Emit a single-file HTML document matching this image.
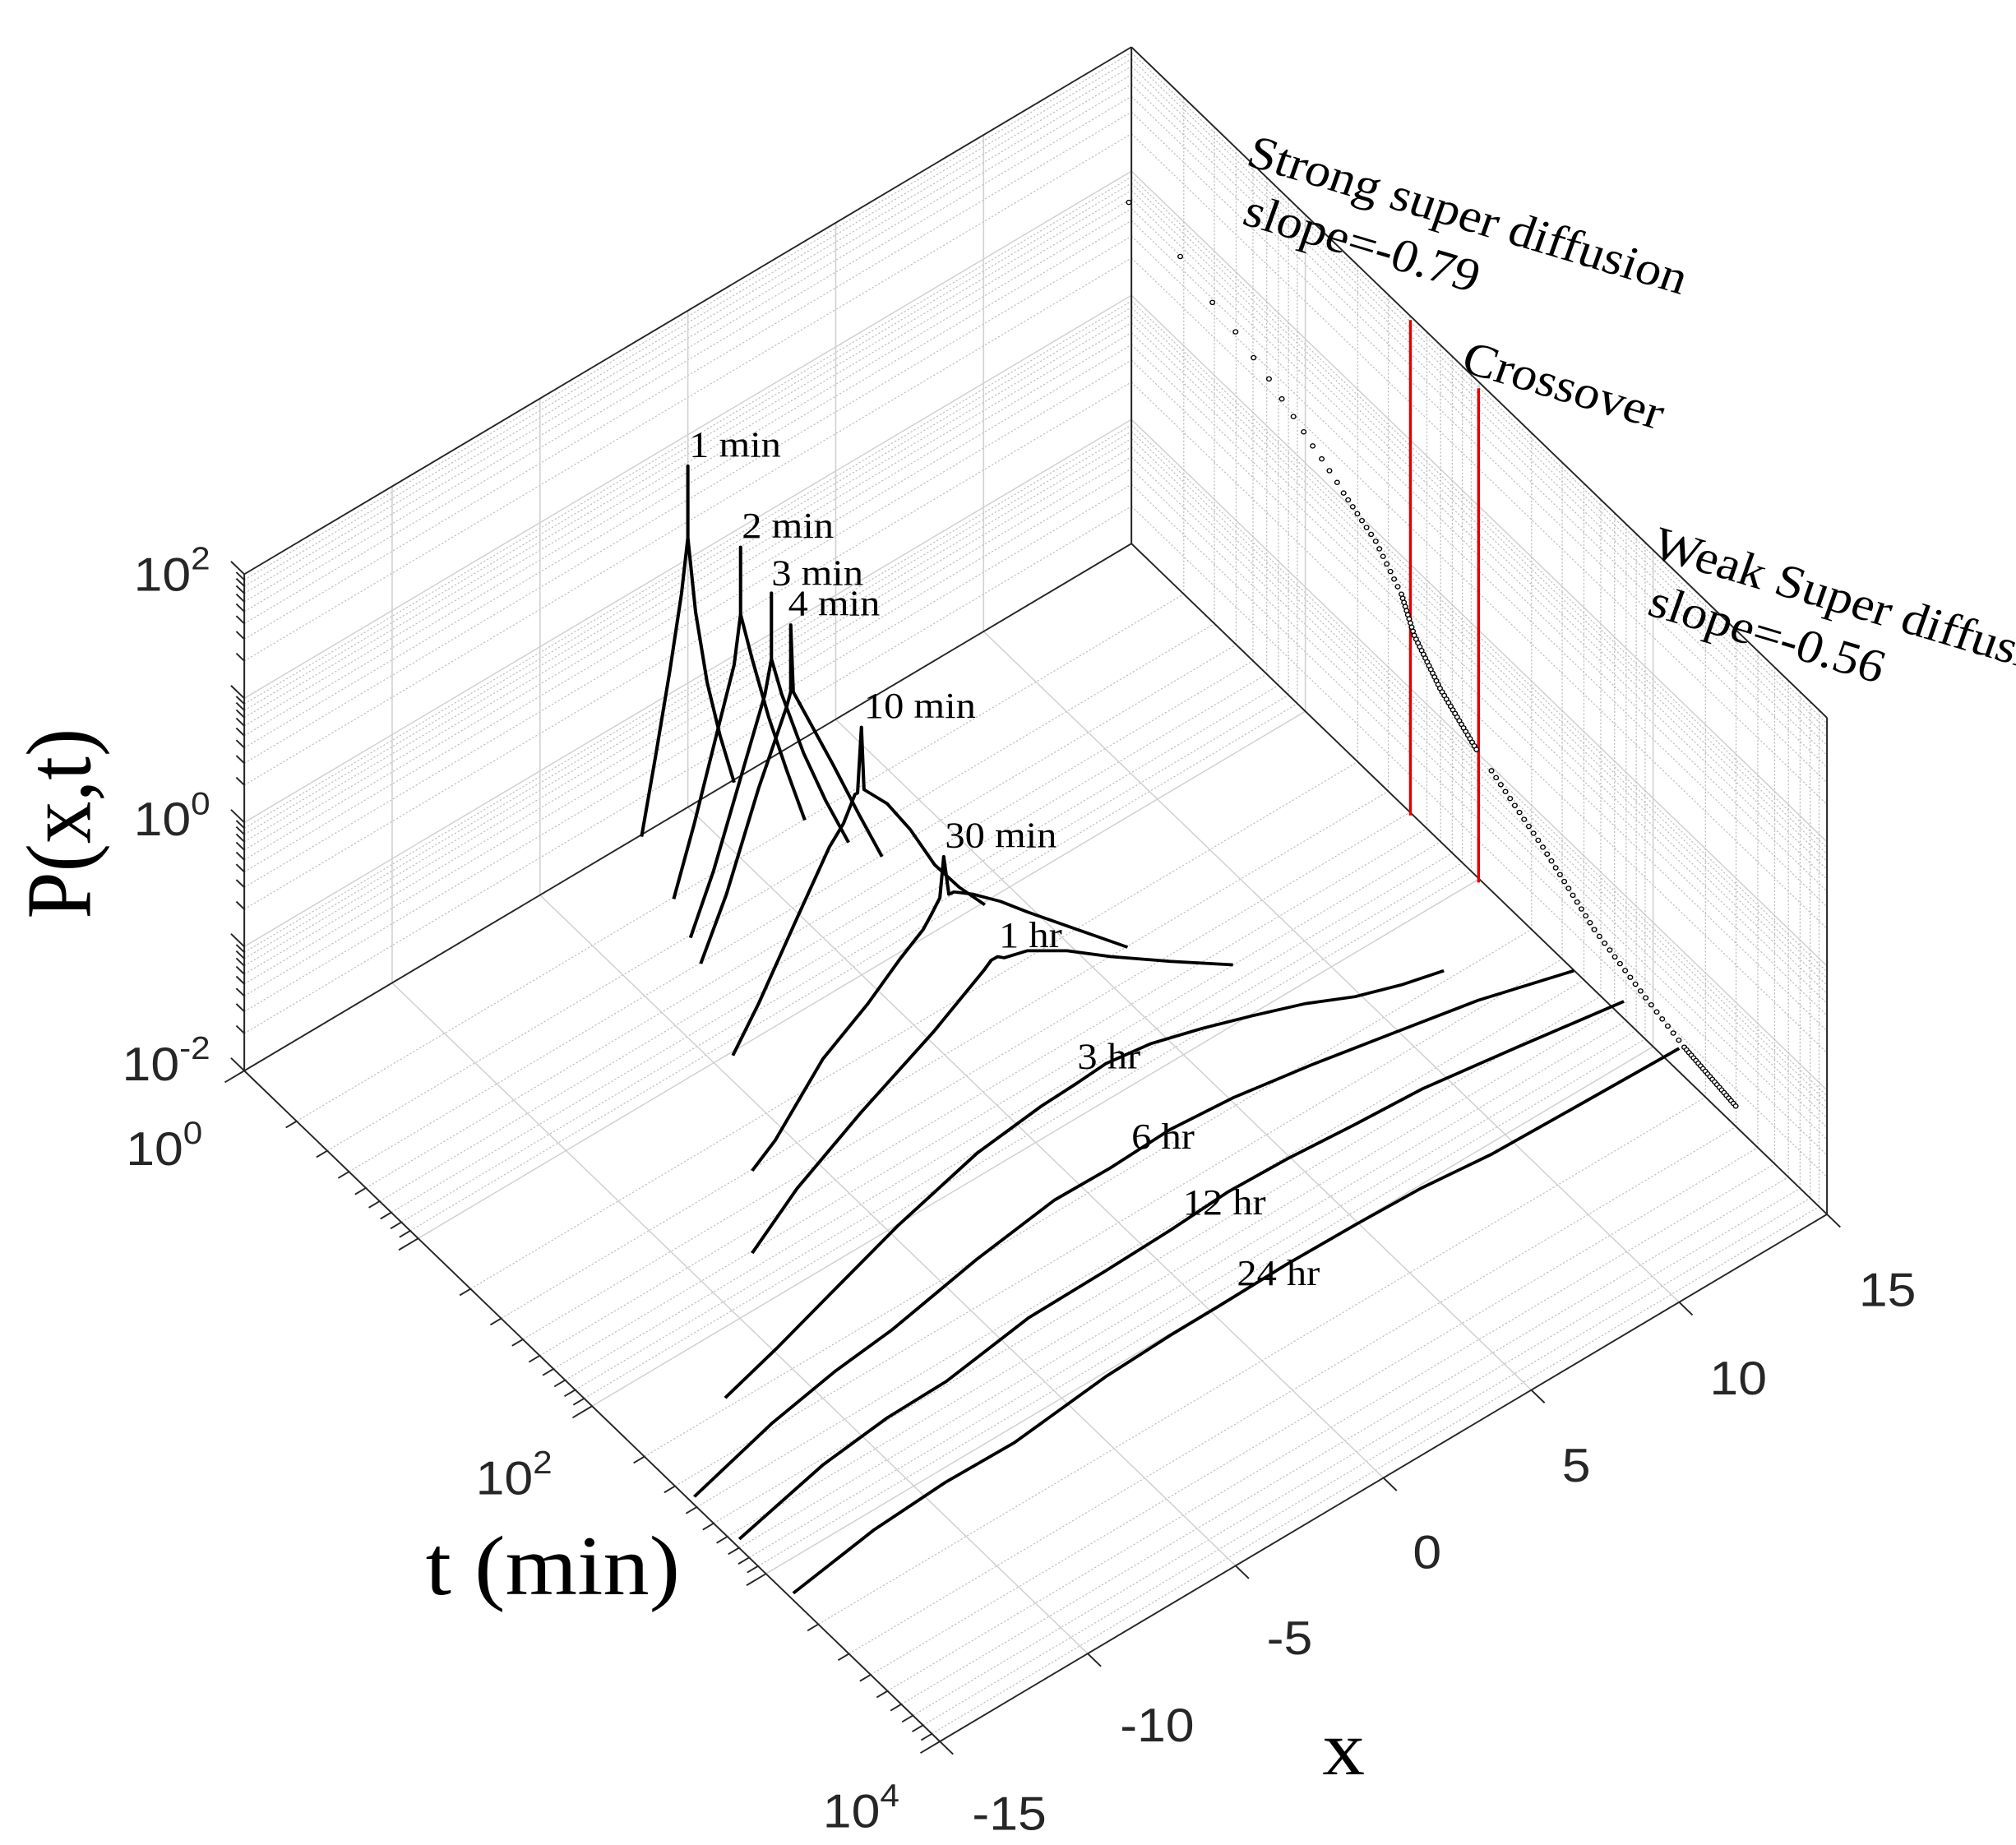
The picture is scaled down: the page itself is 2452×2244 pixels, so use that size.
<!DOCTYPE html>
<html><head><meta charset="utf-8"><style>
html,body{margin:0;padding:0;background:#fff;}
svg{display:block;}
.tk{font-family:"Liberation Sans",sans-serif;fill:#262626;font-size:40px;}
.sr{font-family:"Liberation Serif",serif;fill:#000;}
</style></head><body>
<svg id="s" width="2452" height="2244" viewBox="0 0 1568 1568" preserveAspectRatio="none" xmlns="http://www.w3.org/2000/svg">
<g id="grid"></g>
<g id="box" stroke="#262626" stroke-width="1.3" fill="none"></g>
<g id="red" stroke="#e00000" stroke-width="2.2">
<line x1="1097" y1="272" x2="1097" y2="693"/>
<line x1="1150" y1="330" x2="1150" y2="750"/>
</g>
<g id="dots" fill="#fff" stroke="#000" stroke-width="0.9"></g>
<g fill="none" stroke="#000" stroke-width="2.6" stroke-linejoin="round">
<polyline points="499,711 510,642 521,570 530,505 535,457 535,396 535,457 541,520 550,580 560,625 571,665"/>
<polyline points="524,764 540,700 556,630 571,565 576,522 576,465 576,522 585,560 598,610 612,655 626,697"/>
<polyline points="537,797 555,740 575,665 595,590 600,560 600,504 600,560 608,590 625,640 642,680 660,716"/>
<polyline points="545,819 565,760 590,670 612,600 615,588 615,531 617,588 628,610 648,650 668,692 686,728"/>
<polyline points="570,897 590,853 620,780 645,720 656,700 665,675 667,674 670,618 672,671 678,675 690,683 708,705 727,735 746,754 766,769"/>
<polyline points="585,995 603,969 640,900 675,853 700,815 718,790 724,778 731,763 734,728 738,760 742,758 757,760 778,766 799,775 838,790 877,805"/>
<polyline points="585,1065 620,1010 670,945 726,877 750,845 765,825 771,816 776,813 781,814 799,808 830,808 864,813 910,817 959,820"/>
<polyline points="564,1188 604,1146 650,1095 699,1041 760,980 810,940 837,921 860,904 895,887 935,874 975,863 1015,853 1054,847 1090,837 1123,825"/>
<polyline points="540,1272 600,1210 650,1165 694,1130 760,1070 820,1020 863,993 910,960 959,933 1020,905 1086,877 1150,850 1224,825"/>
<polyline points="575,1308 640,1245 690,1205 736,1174 800,1120 860,1080 911,1045 955,1013 1001,985 1055,955 1107,925 1180,890 1263,851"/>
<polyline points="617,1354 680,1300 735,1260 789,1226 860,1170 910,1135 948,1110 1000,1075 1054,1041 1105,1010 1160,981 1230,938 1306,891"/>
</g>
<g class="sr" font-size="31">
<text x="536" y="388">1 min</text>
<text x="577" y="457">2 min</text>
<text x="600" y="497">3 min</text>
<text x="613" y="523">4 min</text>
<text x="672" y="610">10 min</text>
<text x="735" y="720">30 min</text>
<text x="777" y="805">1 hr</text>
<text x="838" y="908">3 hr</text>
<text x="880" y="976">6 hr</text>
<text x="920" y="1032">12 hr</text>
<text x="962" y="1092">24 hr</text>
</g>
<g class="sr" font-size="40">
<text transform="translate(968,140) rotate(18)">Strong super diffusion</text>
<text transform="translate(965,190) rotate(18)">slope=-0.79</text>
<text transform="translate(1135,315) rotate(18)">Crossover</text>
<text transform="translate(1283,473) rotate(18)">Weak Super diffusion</text>
<text transform="translate(1280,522) rotate(18)">slope=-0.56</text>
</g>
<text class="sr" font-size="72" transform="translate(70,700) rotate(-90)" text-anchor="middle">P(x,t)</text>
<text class="sr" font-size="72" x="430" y="1355" text-anchor="middle">t (min)</text>
<text class="sr" font-size="66" x="1045" y="1508" text-anchor="middle">x</text>
<g class="tk">
<text x="104" y="502">10<tspan font-size="27" dy="-18">2</tspan></text>
<text x="104" y="710">10<tspan font-size="27" dy="-18">0</tspan></text>
<text x="95" y="918">10<tspan font-size="27" dy="-18">-2</tspan></text>
<text x="98" y="990">10<tspan font-size="27" dy="-18">0</tspan></text>
<text x="370" y="1270">10<tspan font-size="27" dy="-18">2</tspan></text>
<text x="640" y="1553">10<tspan font-size="27" dy="-18">4</tspan></text>
<text x="785" y="1555" text-anchor="middle">-15</text>
<text x="900" y="1480" text-anchor="middle">-10</text>
<text x="1003" y="1406" text-anchor="middle">-5</text>
<text x="1110" y="1333" text-anchor="middle">0</text>
<text x="1226" y="1259" text-anchor="middle">5</text>
<text x="1352" y="1185" text-anchor="middle">10</text>
<text x="1468" y="1110" text-anchor="middle">15</text>
</g>
</svg>
<script>
var NS="http://www.w3.org/2000/svg";
function P(x,lt,lz){return [190+(x+15)/30*690+lt/4*541, 910-(x+15)/30*448+lt/4*570-(lz+2)/4*422];}
function ln(g,a,b,st,w,dash){var l=document.createElementNS(NS,"line");l.setAttribute("x1",a[0]);l.setAttribute("y1",a[1]);l.setAttribute("x2",b[0]);l.setAttribute("y2",b[1]);l.setAttribute("stroke",st);l.setAttribute("stroke-width",w);if(dash)l.setAttribute("stroke-dasharray",dash);g.appendChild(l);}
var G=document.getElementById("grid"),B=document.getElementById("box");
function logs(a,b){var r=[];for(var d=a;d<b;d++){for(var k=1;k<10;k++)r.push([d+Math.log10(k),k==1]);}r.push([b,true]);return r;}
var zl=logs(-2,2), tl=logs(0,4);
zl.forEach(function(v){var maj=v[1];
 ln(G,P(-15,0,v[0]),P(15,0,v[0]),maj?"#d0d0d0":"#bdbdbd",maj?1:0.8,maj?null:"1.5,1.5");
 ln(G,P(15,0,v[0]),P(15,4,v[0]),maj?"#d0d0d0":"#bdbdbd",maj?1:0.8,maj?null:"1.5,1.5");
 var p=P(-15,0,v[0]),L=maj?15:9;ln(B,p,[p[0]-L*0.689,p[1]-L*0.725],"#262626",1.3);
});
tl.forEach(function(v){var maj=v[1];
 ln(G,P(-15,v[0],-2),P(15,v[0],-2),maj?"#d0d0d0":"#bdbdbd",maj?1:0.8,maj?null:"1.5,1.5");
 ln(G,P(15,v[0],-2),P(15,v[0],2),maj?"#d0d0d0":"#bdbdbd",maj?1:0.8,maj?null:"1.5,1.5");
 var p=P(-15,v[0],-2),L=maj?18:10;ln(B,p,[p[0]-L*0.839,p[1]+L*0.545],"#262626",1.3);
});
for(var x=-15;x<=15;x+=5){
 if(x>-15&&x<15){ln(G,P(x,0,-2),P(x,0,2),"#d0d0d0",1);}
 if(x>-15)ln(G,P(x,0,-2),P(x,4,-2),"#d0d0d0",1);
 var p=P(x,4,-2);ln(B,p,[p[0]+15*0.688,p[1]+15*0.725],"#262626",1.3);
}
[[P(-15,0,-2),P(-15,0,2)],[P(-15,0,2),P(15,0,2)],[P(15,0,2),P(15,0,-2)],[P(15,0,2),P(15,4,2)],[P(15,4,2),P(15,4,-2)],
 [P(-15,0,-2),P(15,0,-2)],[P(15,0,-2),P(15,4,-2)],[P(-15,0,-2),P(-15,4,-2)],[P(-15,4,-2),P(15,4,-2)]].forEach(function(s){ln(B,s[0],s[1],"#262626",1.3);});
var D=document.getElementById("dots");
function dot(x,y){var c=document.createElementNS(NS,"circle");c.setAttribute("cx",x);c.setAttribute("cy",y);c.setAttribute("r",1.8);D.appendChild(c);}
[[878,172],[918,218],[943,257],[961,282],[975,304],[987,322],[997,339],[1006,354],[1014,367],[1021,379],[1028,390],[1034,400],[1040,410]].forEach(function(p){dot(p[0],p[1]);});
function path(pts,sp){for(var i=0;i<pts.length-1;i++){var a=pts[i],b=pts[i+1],d=Math.hypot(b[0]-a[0],b[1]-a[1]),n=Math.max(1,Math.round(d/sp));for(var j=0;j<n;j++)dot(a[0]+(b[0]-a[0])*j/n,a[1]+(b[1]-a[1])*j/n);}}
path([[1045,419],[1070,460],[1090,505]],7);
path([[1090,505],[1100,540],[1120,585],[1150,640]],3.5);
path([[1160,655],[1200,720],[1240,790],[1280,848],[1310,890]],7);
path([[1310,890],[1330,915],[1350,940],[1351,941]],3);
</script>
</body></html>
